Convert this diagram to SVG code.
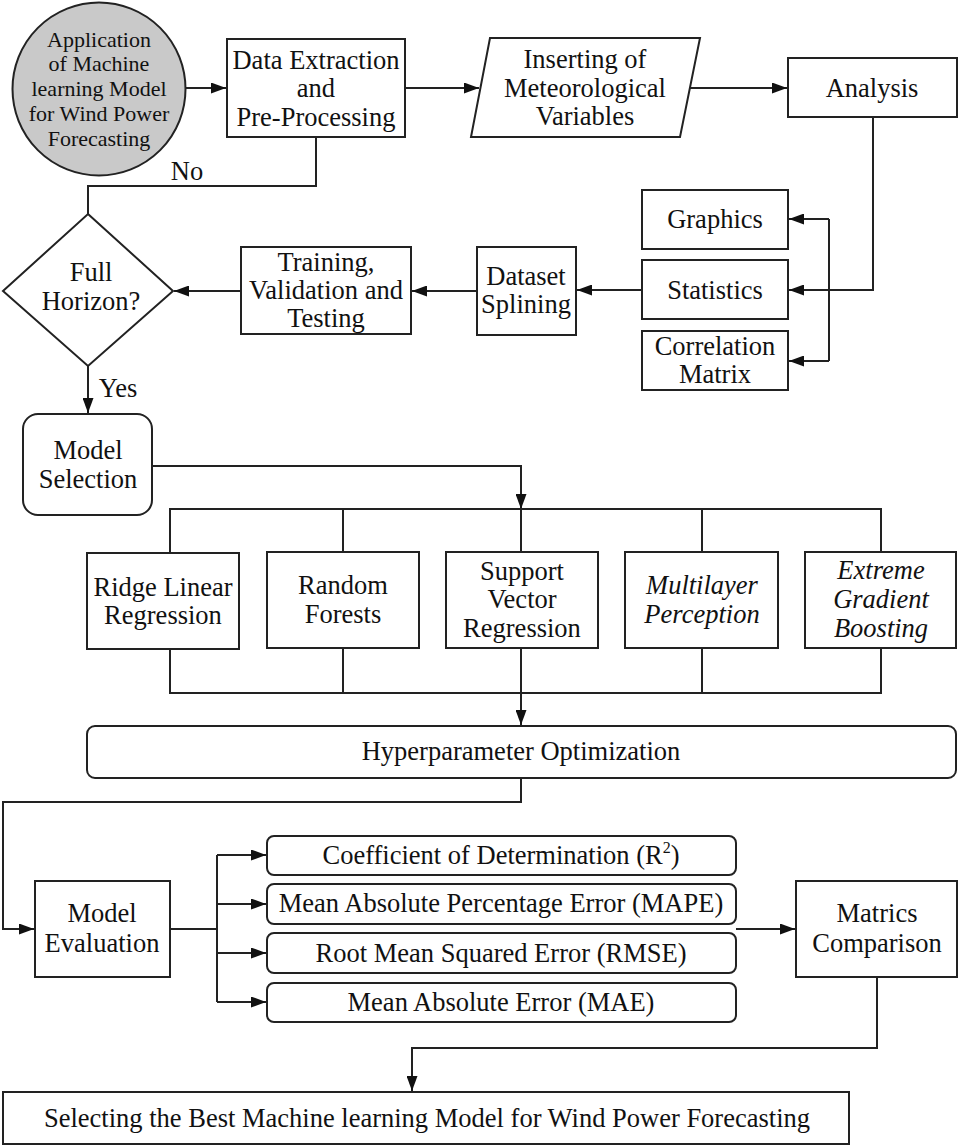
<svg xmlns="http://www.w3.org/2000/svg" width="958" height="1146" viewBox="0 0 958 1146" font-family="'Liberation Serif', 'Times New Roman', Tinos, 'DejaVu Serif', serif">
<style>
.b{fill:#fff;stroke:#222;stroke-width:2}
.c{fill:none;stroke:#222;stroke-width:2}
.t{font-family:'Liberation Serif', 'Times New Roman', Tinos, 'DejaVu Serif', serif;font-size:26.5px;fill:#111;text-anchor:middle}
.s{font-size:22px}
.i{font-style:italic}
</style>
<defs>
<marker id="a" markerUnits="userSpaceOnUse" markerWidth="15" markerHeight="11" refX="15" refY="5.5" orient="auto">
<path d="M0,0 L15,5.5 L0,11 z" fill="#111"/>
</marker>
</defs>
<rect width="958" height="1146" fill="#fff"/>
<g id="connectors">
<path class="c" d="M185,88 H226" marker-end="url(#a)"/>
<path class="c" d="M405,88 H479" marker-end="url(#a)"/>
<path class="c" d="M690,88 H787" marker-end="url(#a)"/>
<path class="c" d="M873,117 V290 H789" marker-end="url(#a)"/>
<path class="c" d="M829,219 V361"/>
<path class="c" d="M829,219 H789" marker-end="url(#a)"/>
<path class="c" d="M829,361 H789" marker-end="url(#a)"/>
<path class="c" d="M642,290 H577" marker-end="url(#a)"/>
<path class="c" d="M477,291 H412" marker-end="url(#a)"/>
<path class="c" d="M241,291 H174" marker-end="url(#a)"/>
<path class="c" d="M316,137 V186 H88 V214"/>
<path class="c" d="M88,366 V413" marker-end="url(#a)"/>
<path class="c" d="M152,466 H521 V509" marker-end="url(#a)"/>
<path class="c" d="M170,553 V509 H881 V552"/>
<path class="c" d="M343,509 V552 M521,509 V552 M702,509 V552"/>
<path class="c" d="M170,649 V693 H881 V648"/>
<path class="c" d="M343,648 V693 M702,648 V693 M521,648 V693"/>
<path class="c" d="M521,693 V725" marker-end="url(#a)"/>
<path class="c" d="M521,778 V802 H3 V929 H34" marker-end="url(#a)"/>
<path class="c" d="M170,929 H217"/>
<path class="c" d="M217,855 V1002"/>
<path class="c" d="M217,855 H266" marker-end="url(#a)"/>
<path class="c" d="M217,904 H266" marker-end="url(#a)"/>
<path class="c" d="M217,953 H266" marker-end="url(#a)"/>
<path class="c" d="M217,1002 H266" marker-end="url(#a)"/>
<path class="c" d="M736,929 H795" marker-end="url(#a)"/>
<path class="c" d="M877,977 V1048 H412 V1091" marker-end="url(#a)"/>
<text class="t" x="187" y="180">No</text>
<text class="t" x="118" y="397">Yes</text>
</g>
<g id="start">
<circle cx="99" cy="89" r="86.5" fill="#c9c9c9" stroke="#222" stroke-width="2"/>
<text class="t s" x="99"><tspan x="99" y="47">Application</tspan><tspan x="99" y="71">of Machine</tspan><tspan x="99" y="96">learning Model</tspan><tspan x="99" y="121">for Wind Power</tspan><tspan x="99" y="146">Forecasting</tspan></text>
</g>
<g id="data-extraction">
<rect class="b" x="227" y="39" width="178" height="98"/>
<text class="t"><tspan x="316" y="69">Data Extraction</tspan><tspan x="316" y="97">and</tspan><tspan x="316" y="126">Pre-Processing</tspan></text>
</g>
<g id="inserting">
<polygon class="b" points="490,38 700,38 680,137 471,137"/>
<text class="t"><tspan x="585" y="68">Inserting of</tspan><tspan x="585" y="97">Meteorological</tspan><tspan x="585" y="125">Variables</tspan></text>
</g>
<g id="analysis">
<rect class="b" x="788" y="58" width="169" height="59"/>
<text class="t" x="872" y="97">Analysis</text>
</g>
<g id="graphics">
<rect class="b" x="642" y="190" width="146" height="59"/>
<text class="t" x="715" y="228">Graphics</text>
</g>
<g id="statistics">
<rect class="b" x="642" y="260" width="146" height="59"/>
<text class="t" x="715" y="299">Statistics</text>
</g>
<g id="correlation">
<rect class="b" x="642" y="331" width="146" height="59"/>
<text class="t"><tspan x="715" y="355">Correlation</tspan><tspan x="715" y="383">Matrix</tspan></text>
</g>
<g id="dataset">
<rect class="b" x="477" y="247" width="99" height="88"/>
<text class="t"><tspan x="526" y="285">Dataset</tspan><tspan x="526" y="313">Splining</tspan></text>
</g>
<g id="training">
<rect class="b" x="241" y="247" width="170" height="87"/>
<text class="t"><tspan x="326" y="271">Training,</tspan><tspan x="326" y="299">Validation and</tspan><tspan x="326" y="327">Testing</tspan></text>
</g>
<g id="full-horizon">
<polygon class="b" points="88,214 173,291 88,366 3,291"/>
<text class="t"><tspan x="91" y="281">Full</tspan><tspan x="91" y="310">Horizon?</tspan></text>
</g>
<g id="model-selection">
<rect class="b" x="23" y="414" width="129" height="101" rx="15"/>
<text class="t"><tspan x="88" y="459">Model</tspan><tspan x="88" y="488">Selection</tspan></text>
</g>
<g id="ridge">
<rect class="b" x="87" y="553" width="152" height="96"/>
<text class="t"><tspan x="163" y="596">Ridge Linear</tspan><tspan x="163" y="624">Regression</tspan></text>
</g>
<g id="random-forests">
<rect class="b" x="267" y="552" width="152" height="96"/>
<text class="t"><tspan x="343" y="594">Random</tspan><tspan x="343" y="623">Forests</tspan></text>
</g>
<g id="svr">
<rect class="b" x="446" y="552" width="152" height="96"/>
<text class="t"><tspan x="522" y="580">Support</tspan><tspan x="522" y="608">Vector</tspan><tspan x="522" y="637">Regression</tspan></text>
</g>
<g id="mlp">
<rect class="b" x="625" y="552" width="153" height="96"/>
<text class="t i"><tspan x="702" y="594">Multilayer</tspan><tspan x="702" y="623">Perception</tspan></text>
</g>
<g id="xgb">
<rect class="b" x="805" y="552" width="151" height="96"/>
<text class="t i"><tspan x="881" y="579">Extreme</tspan><tspan x="881" y="608">Gradient</tspan><tspan x="881" y="637">Boosting</tspan></text>
</g>
<g id="hyperparameter">
<rect class="b" x="87" y="726" width="869" height="52" rx="8"/>
<text class="t" x="521" y="760">Hyperparameter Optimization</text>
</g>
<g id="model-evaluation">
<rect class="b" x="35" y="881" width="135" height="96"/>
<text class="t"><tspan x="102" y="922">Model</tspan><tspan x="102" y="952">Evaluation</tspan></text>
</g>
<g id="r2">
<rect class="b" x="267" y="836" width="469" height="39" rx="7"/>
<text class="t" x="501" y="864">Coefficient of Determination (R<tspan font-size="16" dy="-11">2</tspan><tspan dy="11">)</tspan></text>
</g>
<g id="mape">
<rect class="b" x="267" y="884" width="469" height="40" rx="7"/>
<text class="t" x="501" y="912">Mean Absolute Percentage Error (MAPE)</text>
</g>
<g id="rmse">
<rect class="b" x="267" y="933" width="469" height="40" rx="7"/>
<text class="t" x="501" y="962">Root Mean Squared Error (RMSE)</text>
</g>
<g id="mae">
<rect class="b" x="267" y="983" width="469" height="39" rx="7"/>
<text class="t" x="501" y="1011">Mean Absolute Error (MAE)</text>
</g>
<g id="matrics-comparison">
<rect class="b" x="796" y="881" width="161" height="96"/>
<text class="t"><tspan x="877" y="922">Matrics</tspan><tspan x="877" y="952">Comparison</tspan></text>
</g>
<g id="best-model">
<rect class="b" x="3" y="1092" width="846" height="52"/>
<text class="t" x="427" y="1127">Selecting the Best Machine learning Model for Wind Power Forecasting</text>
</g>
</svg>
